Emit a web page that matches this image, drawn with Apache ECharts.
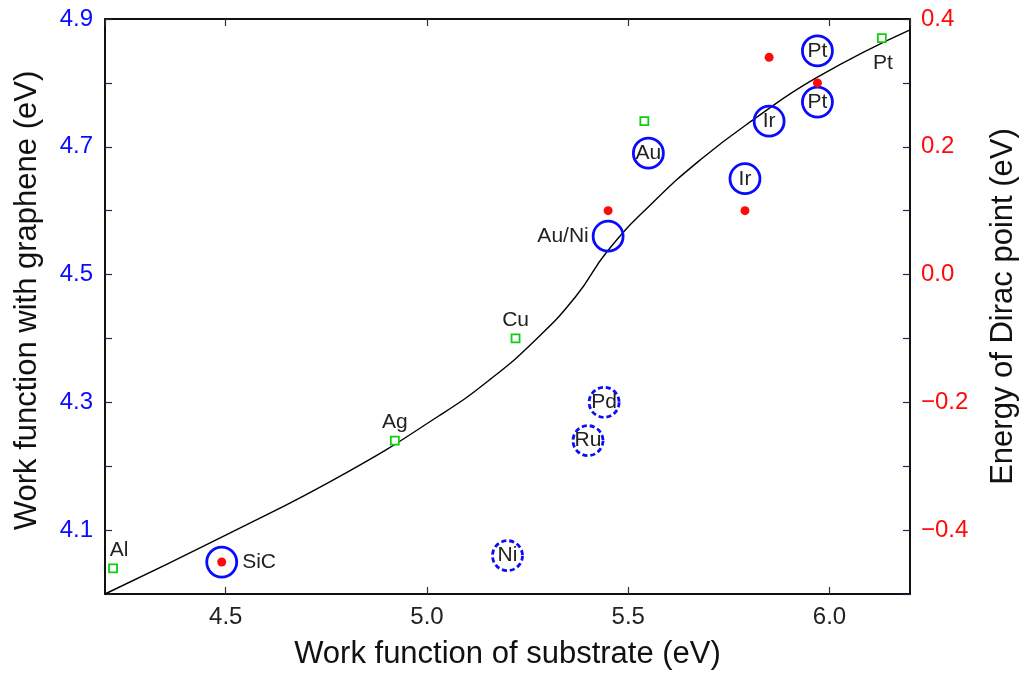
<!DOCTYPE html>
<html>
<head>
<meta charset="utf-8">
<title>Work function</title>
<script src="https://cdn.jsdelivr.net/npm/echarts@6/dist/echarts.min.js"></script>
<style>
  html, body { margin: 0; padding: 0; background: #fff; }
  #main { width: 1027px; height: 675px; }
</style>
</head>
<body>
<div id="main"></div>
<script>
// fitted curve
const curveX = [4.20, 4.50, 4.80, 5.03, 5.155, 5.27, 5.37, 5.45, 5.56, 5.68, 5.81, 5.97, 6.20]
const curveY = [4.000, 4.092, 4.190, 4.279, 4.335, 4.398, 4.466, 4.538, 4.612, 4.680, 4.742, 4.809, 4.883]

// substrate work function only (green squares)
const squareNames = ['Al', 'Ag', 'Cu', 'Au', 'Pt']
const squareX = [4.22, 4.92, 5.22, 5.54, 6.13]
const squareY = [4.04, 4.24, 4.40, 4.74, 4.87]

// work function with graphene, solid circles
const circleNames = ['SiC', 'Au/Ni', 'Au', 'Ir', 'Ir', 'Pt', 'Pt']
const circleX = [4.49, 5.45, 5.55, 5.79, 5.85, 5.97, 5.97]
const circleY = [4.05, 4.56, 4.69, 4.65, 4.74, 4.85, 4.77]

// dashed circles
const dashedNames = ['Pd', 'Ru', 'Ni']
const dashedX = [5.44, 5.40, 5.20]
const dashedY = [4.30, 4.24, 4.06]

// Dirac point energy (right axis)
const diracX = [4.49, 5.45, 5.79, 5.85, 5.97]
const diracY = [-0.45, 0.10, 0.10, 0.34, 0.30]

const font = 'Liberation Sans'
const textColor = '#222'
const blue = '#0a0aff'
const red = '#ff0a0a'

// where each label sits (style only)
const squareLabelPos = { Al: ['top', [6, 0]], Ag: ['top', [0, 0]], Cu: ['top', [0, 0]], Pt: ['bottom', [1, 7]] }

const squareData = squareNames.map((n, i) => {
  const p = squareLabelPos[n]
  return {
    name: n,
    value: [squareX[i], squareY[i]],
    label: p ? { show: true, position: p[0], offset: p[1], distance: 3 } : { show: false }
  }
})

const circleData = circleNames.map((n, i) => {
  let label = { show: true, position: 'inside' }
  if (n === 'SiC') label = { show: true, position: 'right', distance: 4 }
  if (n === 'Au/Ni') label = { show: true, position: 'left', distance: 3 }
  return { name: n, value: [circleX[i], circleY[i]], label }
})

const dashedData = dashedNames.map((n, i) => ({ name: n, value: [dashedX[i], dashedY[i]] }))

const myChart = echarts.init(document.getElementById('main'), null, { renderer: 'canvas' })

const labelStyle = { fontFamily: font, fontSize: 21, color: textColor, formatter: '{b}' }

function tickFmt(v, odd) {
  const n = Math.round(v * 10)
  if ((Math.abs(n) % 2 === 1) !== odd) return ''
  const s = (Math.abs(n) / 10).toFixed(1)
  return n < 0 ? '\u2212' + s : s
}

const axisLine = { onZero: false, lineStyle: { color: '#111', width: 2 } }
const nameFont = { fontFamily: font, fontSize: 31, color: '#111' }

myChart.setOption({
  animation: false,
  textStyle: { fontFamily: font },
  grid: { left: 105, right: 116, top: 19, bottom: 81 },
  xAxis: [{
    type: 'value',
    min: 4.2,
    max: 6.2,
    name: 'Work function of substrate (eV)',
    nameLocation: 'middle',
    nameGap: 45,
    nameTextStyle: nameFont,
    axisLine: axisLine,
    axisTick: { inside: true, length: 7, lineStyle: { color: '#333', width: 1.2 } },
    axisLabel: {
      fontFamily: font, fontSize: 24, color: textColor, margin: 11,
      showMinLabel: false, showMaxLabel: false,
      formatter: v => (Math.round(v * 10) % 5 === 0 ? v.toFixed(1) : '')
    },
    splitLine: { show: false }
  }, {
    type: 'value',
    position: 'top',
    min: 4.2,
    max: 6.2,
    axisLine: axisLine,
    axisTick: { inside: true, length: 7, lineStyle: { color: '#333', width: 1.2 } },
    axisLabel: { show: false },
    splitLine: { show: false }
  }],
  yAxis: [{
    type: 'value',
    min: 4.0,
    max: 4.9,
    interval: 0.1,
    name: 'Work function with graphene (eV)',
    nameLocation: 'middle',
    nameGap: 62,
    nameRotate: 90,
    nameTextStyle: Object.assign({ padding: [0, 0, 0, 12] }, nameFont),
    axisLine: axisLine,
    axisTick: { inside: true, length: 7, lineStyle: { color: '#2a2050', width: 1.2 } },
    axisLabel: { fontFamily: font, fontSize: 24, color: blue, margin: 12, formatter: v => tickFmt(v, true) },
    splitLine: { show: false }
  }, {
    type: 'value',
    min: -0.5,
    max: 0.4,
    interval: 0.1,
    position: 'right',
    name: 'Energy of Dirac point (eV)',
    nameLocation: 'middle',
    nameGap: 78,
    nameRotate: 90,
    nameTextStyle: nameFont,
    axisLine: axisLine,
    axisTick: { inside: true, length: 7, lineStyle: { color: '#2a2050', width: 1.2 } },
    axisLabel: { fontFamily: font, fontSize: 24, color: red, margin: 11, formatter: v => tickFmt(v, false) },
    splitLine: { show: false }
  }],
  series: [{
    name: 'fit',
    type: 'line',
    data: curveX.map((x, i) => [x, curveY[i]]),
    smooth: 0.5,
    showSymbol: false,
    symbol: 'none',
    lineStyle: { color: '#000', width: 1.4 },
    z: 1
  }, {
    name: 'substrate',
    type: 'scatter',
    symbol: 'rect',
    symbolSize: 8,
    itemStyle: { color: '#fff', borderColor: '#10cc10', borderWidth: 1.8, opacity: 1 },
    label: labelStyle,
    data: squareData,
    z: 3
  }, {
    name: 'with graphene',
    type: 'scatter',
    symbol: 'circle',
    symbolSize: 30,
    itemStyle: { color: 'rgba(0,0,0,0)', borderColor: blue, borderWidth: 2.8, opacity: 1 },
    label: labelStyle,
    data: circleData,
    z: 4
  }, {
    name: 'note',
    type: 'scatter',
    symbolSize: 30,
    itemStyle: { opacity: 0 },
    label: { show: true, position: 'bottom', distance: 2, fontFamily: font, fontSize: 21, color: textColor, formatter: '(100)' },
    data: [[circleX[4], circleY[4]]],
    z: 4
  }, {
    name: 'dashed',
    type: 'scatter',
    symbol: 'circle',
    symbolSize: 30,
    itemStyle: { color: 'rgba(0,0,0,0)', borderColor: blue, borderWidth: 2.8, borderType: [5, 3], opacity: 1 },
    label: Object.assign({ show: true, position: 'inside' }, labelStyle),
    data: dashedData,
    z: 4
  }, {
    name: 'Dirac point',
    type: 'scatter',
    yAxisIndex: 1,
    symbol: 'circle',
    symbolSize: 9,
    itemStyle: { color: red, opacity: 1 },
    data: diracX.map((x, i) => [x, diracY[i]]),
    z: 5
  }]
})
</script>
</body>
</html>
